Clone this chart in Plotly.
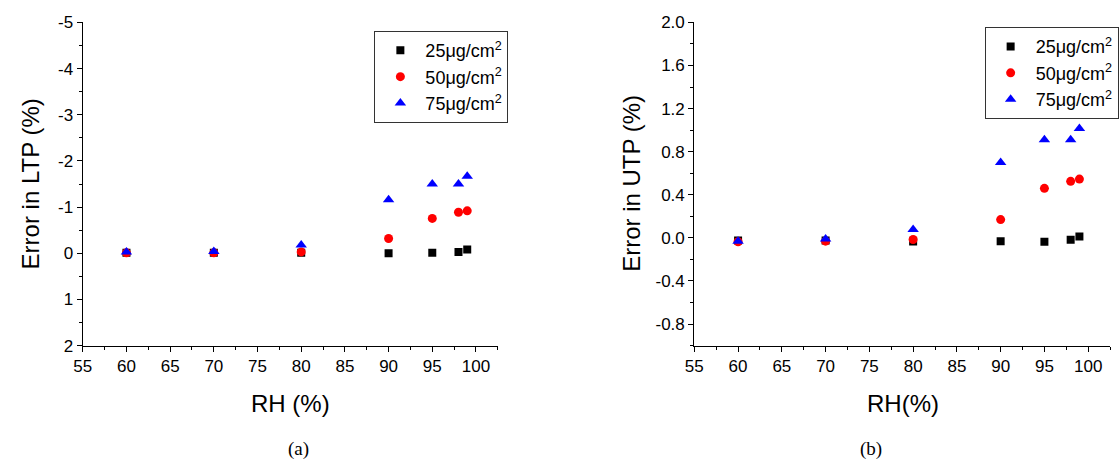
import plotly.graph_objects as go

# Relative humidity levels (%)
rh = [60, 70, 80, 90, 95, 98, 99]

# Error in lower trip point (%) for each loading
ltp_25 = [-0.01, -0.01, -0.01, 0.0, -0.01, -0.03, -0.08]
ltp_50 = [-0.01, -0.01, -0.03, -0.32, -0.755, -0.89, -0.92]
ltp_75 = [-0.03, -0.04, -0.18, -1.16, -1.50, -1.50, -1.67]

# Error in upper trip point (%) for each loading
utp_25 = [-0.024, -0.024, -0.033, -0.03, -0.036, -0.018, 0.012]
utp_50 = [-0.036, -0.03, -0.015, 0.17, 0.46, 0.525, 0.546]
utp_75 = [-0.03, -0.01, 0.077, 0.70, 0.91, 0.91, 1.015]

series_names = ["25μg/cm<sup>2</sup>", "50μg/cm<sup>2</sup>", "75μg/cm<sup>2</sup>"]

# Tick labels
x_ticks = [55, 60, 65, 70, 75, 80, 85, 90, 95, 100]
ltp_ticks = [-5, -4, -3, -2, -1, 0, 1, 2]
ltp_ticktext = ["-5", "-4", "-3", "-2", "-1", "0", "1", "2"]
utp_ticks = [2.0, 1.6, 1.2, 0.8, 0.4, 0.0, -0.4, -0.8]
utp_ticktext = ["2.0", "1.6", "1.2", "0.8", "0.4", "0.0", "-0.4", "-0.8"]

W, H = 1119, 474
FONT = "Arial"
SERIF = "Times New Roman"

styles = [
    dict(color="black", symbol="square", size=8),
    dict(color="red", symbol="circle", size=9),
    dict(color="blue", symbol="triangle-up", size=10),
]

fig = go.Figure()

for name, ys, st in zip(series_names, [ltp_25, ltp_50, ltp_75], styles):
    fig.add_trace(go.Scatter(
        x=rh, y=ys, mode="markers", name=name,
        marker=dict(color=st["color"], symbol=st["symbol"], size=st["size"], line=dict(width=0)),
        xaxis="x", yaxis="y", legend="legend",
    ))

for name, ys, st in zip(series_names, [utp_25, utp_50, utp_75], styles):
    fig.add_trace(go.Scatter(
        x=rh, y=ys, mode="markers", name=name,
        marker=dict(color=st["color"], symbol=st["symbol"], size=st["size"], line=dict(width=0)),
        xaxis="x2", yaxis="y2", legend="legend2",
    ))

def px_x(p):
    return p / W

def px_y(p):
    return 1 - p / H

axis_common = dict(
    showline=True, linecolor="black", linewidth=1.3,
    ticks="outside", ticklen=5, tickwidth=1.2, tickcolor="black",
    showgrid=False, zeroline=False,
    tickfont=dict(family=FONT, size=17, color="black"),
)

xaxis_common = dict(
    axis_common, range=[55, 102.5], tickvals=x_ticks,
    minor=dict(ticks="outside", ticklen=3, dtick=2.5, tick0=55, tickcolor="black", tickwidth=1.2),
)

y_top, y_bot = px_y(14), px_y(350.7)

fig.update_layout(
    width=W, height=H,
    margin=dict(l=0, r=0, t=0, b=0),
    paper_bgcolor="white", plot_bgcolor="white",
    showlegend=True,
    xaxis=dict(xaxis_common, domain=[px_x(74.7), px_x(495)], anchor="y"),
    yaxis=dict(
        axis_common, domain=[y_bot, y_top], anchor="x",
        range=[2, -5], tickvals=ltp_ticks, ticktext=ltp_ticktext,
        minor=dict(ticks="outside", ticklen=3, dtick=0.5, tick0=0, tickcolor="black", tickwidth=1.2),
    ),
    xaxis2=dict(xaxis_common, domain=[px_x(694), px_x(1115)], anchor="y2"),
    yaxis2=dict(
        axis_common, domain=[y_bot, y_top], anchor="x2",
        range=[-1.0, 2.0], tickvals=utp_ticks, ticktext=utp_ticktext,
        minor=dict(ticks="outside", ticklen=3, dtick=0.2, tick0=0, tickcolor="black", tickwidth=1.2),
    ),
    legend=dict(
        x=px_x(370), y=px_y(23), xanchor="left", yanchor="top",
        bgcolor="white", bordercolor="#333", borderwidth=1,
        font=dict(family=FONT, size=18, color="black"),
        itemwidth=40, tracegroupgap=0,
    ),
    legend2=dict(
        x=px_x(988), y=px_y(19), xanchor="left", yanchor="top",
        bgcolor="white", bordercolor="#333", borderwidth=1,
        font=dict(family=FONT, size=18, color="black"),
        itemwidth=40, tracegroupgap=0,
    ),
)

annotations = [
    dict(text="RH (%)", x=px_x(285), y=px_y(411), font=dict(family=FONT, size=24)),
    dict(text="RH(%)", x=px_x(905), y=px_y(411), font=dict(family=FONT, size=24)),
    dict(text="Error in LTP (%)", x=px_x(22), y=px_y(182), textangle=-90, font=dict(family=FONT, size=24)),
    dict(text="Error in UTP (%)", x=px_x(631), y=px_y(182), textangle=-90, font=dict(family=FONT, size=24)),
    dict(text="(a)", x=px_x(293), y=px_y(458), font=dict(family=SERIF, size=19)),
    dict(text="(b)", x=px_x(873), y=px_y(458), font=dict(family=SERIF, size=19)),
]
for a in annotations:
    a["font"]["color"] = "black"
    fig.add_annotation(xref="paper", yref="paper", xanchor="center", yanchor="middle",
                       showarrow=False, **a)

fig.write_html("out.html")
